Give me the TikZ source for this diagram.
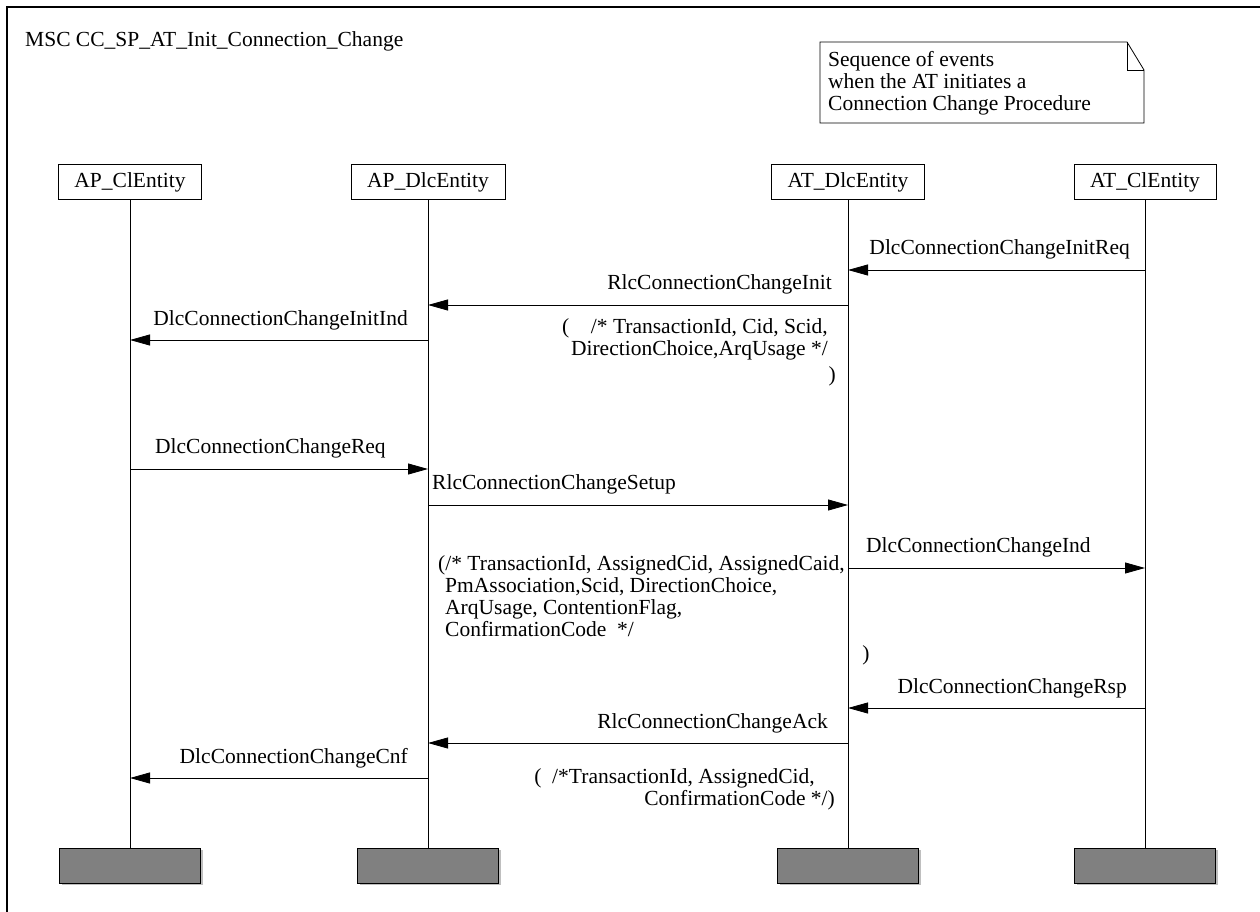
\documentclass[tikz,border=0pt]{standalone}
\usepackage{fontspec}
\setmainfont{Liberation Serif}
\usetikzlibrary{arrows.meta,positioning,shadows}

\tikzset{
  entity/.style={draw, fill=white, line width=0.8pt, inner xsep=16pt, minimum height=35pt},
  lifeline/.style={line width=0.8pt},
  msg/.style={line width=0.8pt, -{Triangle[length=20pt,width=11pt]}},
  endbox/.style={draw, line width=1pt, fill=black!50, minimum width=141pt, minimum height=35pt,
    drop shadow={shadow xshift=2pt, shadow yshift=-2pt, fill=black!25, opacity=1}},
  lbl/.style={inner sep=0pt},
}

\begin{document}
\begin{tikzpicture}[x=1pt, y=-1pt, font=\fontsize{21.5}{22}\selectfont]
\useasboundingbox (0,0) rectangle (1260,912);
% frame and title
\draw[line width=1.5pt] (1262,7) -- (7,7) -- (7,914);
\node[lbl, anchor=base west] (title) at (25,47) {MSC CC\_SP\_AT\_Init\_Connection\_Change};

% note
\node[lbl, anchor=base west, align=left] (note) at (828,111)
  {Sequence of events\\when the AT initiates a\\Connection Change Procedure};
\draw[line width=0.8pt] (820,42) -- (1127,42) -- (1144,70) -- (1144,123) -- (820,123) -- cycle;
\draw[line width=0.8pt] (1127,42) -- (1127,70) -- (1144,70);

% instances
\node[entity] (apcl) at (130,182) {AP\_ClEntity};
\node[entity] (apdlc) at (428,182) {AP\_DlcEntity};
\node[entity] (atdlc) at (848,182) {AT\_DlcEntity};
\node[entity] (atcl) at (1145,182) {AT\_ClEntity};

\node[endbox] (apclend) at (130,865.5) {};
\node[endbox] (apdlcend) at (428,865.5) {};
\node[endbox] (atdlcend) at (848,865.5) {};
\node[endbox] (atclend) at (1145,865.5) {};

\draw[lifeline] (apcl) -- (apclend);
\draw[lifeline] (apdlc) -- (apdlcend);
\draw[lifeline] (atdlc) -- (atdlcend);
\draw[lifeline] (atcl) -- (atclend);

% message rows
\coordinate (r1) at (0,270);
\coordinate (r2) at (0,305);
\coordinate (r3) at (0,340);
\coordinate (r4) at (0,469);
\coordinate (r5) at (0,505);
\coordinate (r6) at (0,568);
\coordinate (r7) at (0,708);
\coordinate (r8) at (0,743);
\coordinate (r9) at (0,778);

\draw[msg] (atcl |- r1) -- (atdlc |- r1);
\node[lbl, anchor=base east] (m1) at (1130,254) {DlcConnectionChangeInitReq};
\draw[msg] (atdlc |- r2) -- (apdlc |- r2);
\node[lbl, anchor=base east] (m2) at (832,289) {RlcConnectionChangeInit};
\draw[msg] (apdlc |- r3) -- (apcl |- r3);
\node[lbl, anchor=base east] (m3) at (408,325) {DlcConnectionChangeInitInd};
\node[lbl, anchor=base east, align=right] (p1) at (828,355)
  {(\quad /* TransactionId, Cid, Scid,\\DirectionChoice,ArqUsage */};
\node[lbl, anchor=base east] (p1end) at (836,381) {)};

\draw[msg] (apcl |- r4) -- (apdlc |- r4);
\node[lbl, anchor=base west] (m4) at (155,453) {DlcConnectionChangeReq};
\draw[msg] (apdlc |- r5) -- (atdlc |- r5);
\node[lbl, anchor=base west] (m5) at (432,489) {RlcConnectionChangeSetup};
\draw[msg] (atdlc |- r6) -- (atcl |- r6);
\node[lbl, anchor=base west] (m6) at (866,552) {DlcConnectionChangeInd};
\node[lbl, anchor=base west, align=left] (p2) at (438,636)
  {(/* TransactionId, AssignedCid, AssignedCaid,\\
   \hspace*{7pt}PmAssociation,Scid, DirectionChoice,\\
   \hspace*{7pt}ArqUsage, ContentionFlag,\\
   \hspace*{7pt}ConfirmationCode\ \ */};
\node[lbl] (p2end) at (866,655) {)};

\draw[msg] (atcl |- r7) -- (atdlc |- r7);
\node[lbl, anchor=base east] (m7) at (1127,693) {DlcConnectionChangeRsp};
\draw[msg] (atdlc |- r8) -- (apdlc |- r8);
\node[lbl, anchor=base east] (m8) at (828,728) {RlcConnectionChangeAck};
\draw[msg] (apdlc |- r9) -- (apcl |- r9);
\node[lbl, anchor=base east] (m9) at (408,763) {DlcConnectionChangeCnf};
\node[lbl, anchor=base east, align=right] (p3) at (835,805)
  {(\ \ /*TransactionId, AssignedCid,\hspace*{20pt}\\ConfirmationCode */)};
\end{tikzpicture}
\end{document}
